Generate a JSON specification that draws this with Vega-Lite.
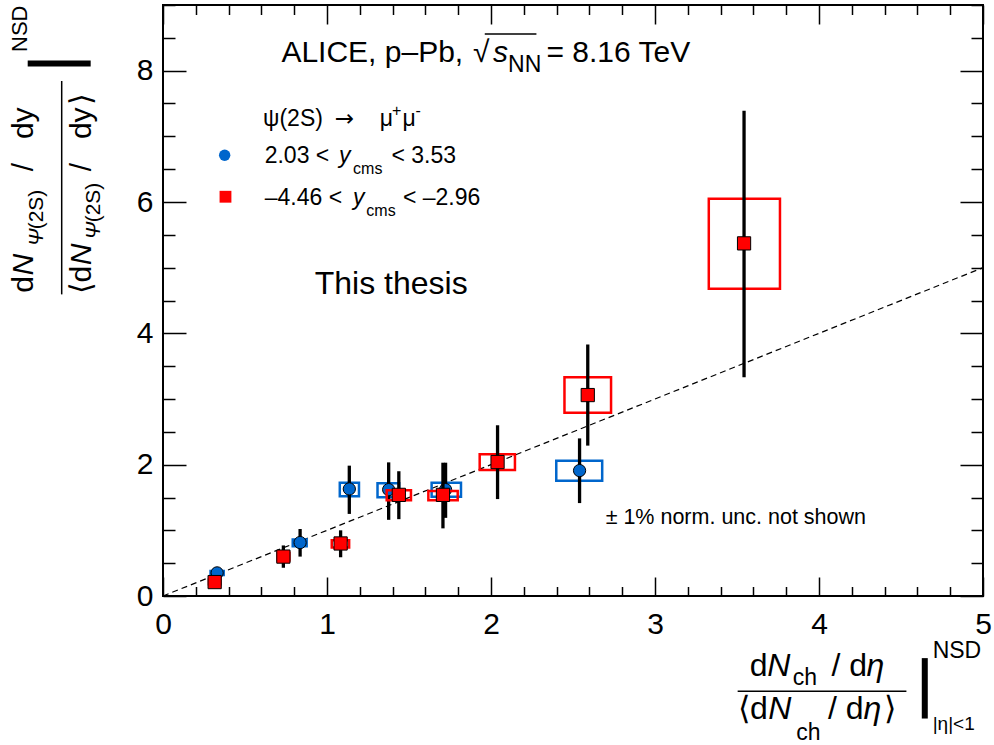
{
  "$schema": "https://vega.github.io/schema/vega-lite/v6.json",
  "width": 820,
  "height": 591,
  "autosize": {"type": "none"},
  "padding": {"left": 163, "top": 5, "right": 11, "bottom": 149},
  "background": "white",
  "config": {
    "view": {"stroke": "black", "strokeWidth": 2},
    "font": "Liberation Sans",
    "text": {"font": "Liberation Sans", "color": "black", "align": "left", "baseline": "alphabetic"}
  },
  "datasets": {
    "pts": [
      {"s": "fwd", "x": 0.330, "y": 0.352, "lo": 0.30, "hi": 0.40, "bx1": 0.29, "bx2": 0.37, "by1": 0.32, "by2": 0.38},
      {"s": "fwd", "x": 0.836, "y": 0.814, "lo": 0.60, "hi": 1.02, "bx1": 0.791, "bx2": 0.876, "by1": 0.756, "by2": 0.861},
      {"s": "fwd", "x": 1.136, "y": 1.63, "lo": 1.25, "hi": 1.985, "bx1": 1.078, "bx2": 1.195, "by1": 1.52, "by2": 1.726},
      {"s": "fwd", "x": 1.376, "y": 1.62, "lo": 1.16, "hi": 2.035, "bx1": 1.308, "bx2": 1.44, "by1": 1.504, "by2": 1.716},
      {"s": "fwd", "x": 1.723, "y": 1.62, "lo": 1.19, "hi": 2.03, "bx1": 1.638, "bx2": 1.817, "by1": 1.51, "by2": 1.725},
      {"s": "fwd", "x": 2.54, "y": 1.91, "lo": 1.415, "hi": 2.40, "bx1": 2.398, "bx2": 2.678, "by1": 1.755, "by2": 2.06},
      {"s": "bwd", "x": 0.315, "y": 0.212, "lo": 0.17, "hi": 0.26, "bx1": 0.28, "bx2": 0.35, "by1": 0.18, "by2": 0.25},
      {"s": "bwd", "x": 0.734, "y": 0.60, "lo": 0.43, "hi": 0.77, "bx1": 0.699, "bx2": 0.771, "by1": 0.54, "by2": 0.66},
      {"s": "bwd", "x": 1.083, "y": 0.80, "lo": 0.59, "hi": 1.00, "bx1": 1.029, "bx2": 1.135, "by1": 0.74, "by2": 0.85},
      {"s": "bwd", "x": 1.438, "y": 1.54, "lo": 1.17, "hi": 1.90, "bx1": 1.364, "bx2": 1.512, "by1": 1.46, "by2": 1.61},
      {"s": "bwd", "x": 1.707, "y": 1.54, "lo": 1.03, "hi": 2.03, "bx1": 1.618, "bx2": 1.797, "by1": 1.46, "by2": 1.60},
      {"s": "bwd", "x": 2.04, "y": 2.04, "lo": 1.476, "hi": 2.60, "bx1": 1.931, "bx2": 2.146, "by1": 1.92, "by2": 2.16},
      {"s": "bwd", "x": 2.59, "y": 3.06, "lo": 2.29, "hi": 3.83, "bx1": 2.448, "bx2": 2.732, "by1": 2.79, "by2": 3.33},
      {"s": "bwd", "x": 3.543, "y": 5.37, "lo": 3.33, "hi": 7.39, "bx1": 3.328, "bx2": 3.762, "by1": 4.68, "by2": 6.05}
    ],
    "diag": [{"x": 0, "y": 0}, {"x": 5, "y": 5}]
  },
  "layer": [
    {
      "data": {"name": "diag"},
      "mark": {"type": "line", "color": "black", "strokeWidth": 1.2, "strokeDash": [6, 4]},
      "encoding": {
        "x": {"field": "x", "type": "quantitative", "scale": {"domain": [0, 5], "nice": false, "zero": false},
          "axis": {"orient": "bottom", "title": null, "domain": false, "grid": false,
            "values": [0, 0.2, 0.4, 0.6, 0.8, 1, 1.2, 1.4, 1.6, 1.8, 2, 2.2, 2.4, 2.6, 2.8, 3, 3.2, 3.4, 3.6, 3.8, 4, 4.2, 4.4, 4.6, 4.8, 5],
            "tickColor": "black", "tickWidth": 1.5,
            "tickSize": {"condition": {"test": "datum.value == round(datum.value)", "value": -19}, "value": -9.5},
            "labelExpr": "datum.value == round(datum.value) ? format(datum.value, 'd') : ''",
            "labelFont": "Liberation Sans", "labelFontSize": 30, "labelColor": "black", "labelPadding": 32,
            "labelFlush": false, "labelOverlap": false, "labelBound": false}},
        "y": {"field": "y", "type": "quantitative", "scale": {"domain": [0, 9], "nice": false, "zero": false},
          "axis": {"orient": "left", "title": null, "domain": false, "grid": false,
            "values": [0, 0.5, 1, 1.5, 2, 2.5, 3, 3.5, 4, 4.5, 5, 5.5, 6, 6.5, 7, 7.5, 8, 8.5, 9],
            "tickColor": "black", "tickWidth": 1.5,
            "tickSize": {"condition": {"test": "datum.value % 2 == 0", "value": -23}, "value": -12},
            "labelExpr": "datum.value % 2 == 0 ? format(datum.value, 'd') : ''",
            "labelFont": "Liberation Sans", "labelFontSize": 30, "labelColor": "black", "labelPadding": 33,
            "labelFlush": false, "labelOverlap": false, "labelBound": false}}
      }
    },
    {
      "data": {"name": "diag"},
      "mark": {"type": "line", "opacity": 0},
      "encoding": {
        "x": {"field": "x", "type": "quantitative", "scale": {"domain": [0, 5], "nice": false, "zero": false},
          "axis": {"orient": "top", "title": null, "domain": false, "grid": false, "labels": false,
            "values": [0, 0.2, 0.4, 0.6, 0.8, 1, 1.2, 1.4, 1.6, 1.8, 2, 2.2, 2.4, 2.6, 2.8, 3, 3.2, 3.4, 3.6, 3.8, 4, 4.2, 4.4, 4.6, 4.8, 5],
            "tickColor": "black", "tickWidth": 1.5,
            "tickSize": {"condition": {"test": "datum.value == round(datum.value)", "value": -19}, "value": -9.5}}},
        "y": {"field": "y", "type": "quantitative", "scale": {"domain": [0, 9], "nice": false, "zero": false},
          "axis": {"orient": "right", "title": null, "domain": false, "grid": false, "labels": false,
            "values": [0, 0.5, 1, 1.5, 2, 2.5, 3, 3.5, 4, 4.5, 5, 5.5, 6, 6.5, 7, 7.5, 8, 8.5, 9],
            "tickColor": "black", "tickWidth": 1.5,
            "tickSize": {"condition": {"test": "datum.value % 2 == 0", "value": -23}, "value": -12}}}
      }
    },
    {
      "data": {"name": "pts"},
      "transform": [{"filter": "datum.s == 'fwd'"}],
      "mark": {"type": "rect", "filled": false, "stroke": "#0066cc", "strokeWidth": 2.5, "fill": null},
      "encoding": {
        "x": {"field": "bx1", "type": "quantitative", "scale": {"domain": [0, 5], "nice": false, "zero": false}, "axis": null},
        "x2": {"field": "bx2"},
        "y": {"field": "by1", "type": "quantitative", "scale": {"domain": [0, 9], "nice": false, "zero": false}, "axis": null},
        "y2": {"field": "by2"}
      }
    },
    {
      "data": {"name": "pts"},
      "transform": [{"filter": "datum.s == 'fwd'"}],
      "mark": {"type": "rule", "color": "black", "strokeWidth": 3.3},
      "encoding": {
        "x": {"field": "x", "type": "quantitative", "scale": {"domain": [0, 5], "nice": false, "zero": false}, "axis": null},
        "y": {"field": "lo", "type": "quantitative", "scale": {"domain": [0, 9], "nice": false, "zero": false}, "axis": null},
        "y2": {"field": "hi"}
      }
    },
    {
      "data": {"name": "pts"},
      "transform": [{"filter": "datum.s == 'fwd'"}],
      "mark": {"type": "point", "shape": "circle", "filled": true, "fill": "#0066cc", "stroke": "black", "strokeWidth": 1, "size": 150, "opacity": 1},
      "encoding": {
        "x": {"field": "x", "type": "quantitative", "scale": {"domain": [0, 5], "nice": false, "zero": false}, "axis": null},
        "y": {"field": "y", "type": "quantitative", "scale": {"domain": [0, 9], "nice": false, "zero": false}, "axis": null}
      }
    },
    {
      "data": {"name": "pts"},
      "transform": [{"filter": "datum.s == 'bwd'"}],
      "mark": {"type": "rect", "filled": false, "stroke": "#ff0000", "strokeWidth": 2.5, "fill": null},
      "encoding": {
        "x": {"field": "bx1", "type": "quantitative", "scale": {"domain": [0, 5], "nice": false, "zero": false}, "axis": null},
        "x2": {"field": "bx2"},
        "y": {"field": "by1", "type": "quantitative", "scale": {"domain": [0, 9], "nice": false, "zero": false}, "axis": null},
        "y2": {"field": "by2"}
      }
    },
    {
      "data": {"name": "pts"},
      "transform": [{"filter": "datum.s == 'bwd'"}],
      "mark": {"type": "rule", "color": "black", "strokeWidth": 3.3},
      "encoding": {
        "x": {"field": "x", "type": "quantitative", "scale": {"domain": [0, 5], "nice": false, "zero": false}, "axis": null},
        "y": {"field": "lo", "type": "quantitative", "scale": {"domain": [0, 9], "nice": false, "zero": false}, "axis": null},
        "y2": {"field": "hi"}
      }
    },
    {
      "data": {"name": "pts"},
      "transform": [{"filter": "datum.s == 'bwd'"}],
      "mark": {"type": "point", "shape": "square", "filled": true, "fill": "#ff0000", "stroke": "black", "strokeWidth": 1, "size": 175, "opacity": 1},
      "encoding": {
        "x": {"field": "x", "type": "quantitative", "scale": {"domain": [0, 5], "nice": false, "zero": false}, "axis": null},
        "y": {"field": "y", "type": "quantitative", "scale": {"domain": [0, 9], "nice": false, "zero": false}, "axis": null}
      }
    },
    {
      "data": {"values": [{"x": 0.376, "y": 6.713}]},
      "mark": {"type": "point", "shape": "circle", "filled": true, "fill": "#0066cc", "strokeWidth": 0, "size": 130, "opacity": 1},
      "encoding": {
        "x": {"field": "x", "type": "quantitative", "scale": {"domain": [0, 5], "nice": false, "zero": false}, "axis": null},
        "y": {"field": "y", "type": "quantitative", "scale": {"domain": [0, 9], "nice": false, "zero": false}, "axis": null}
      }
    },
    {
      "data": {"values": [{"x": 0.381, "y": 6.080}]},
      "mark": {"type": "point", "shape": "square", "filled": true, "fill": "#ff0000", "strokeWidth": 0, "size": 140, "opacity": 1},
      "encoding": {
        "x": {"field": "x", "type": "quantitative", "scale": {"domain": [0, 5], "nice": false, "zero": false}, "axis": null},
        "y": {"field": "y", "type": "quantitative", "scale": {"domain": [0, 9], "nice": false, "zero": false}, "axis": null}
      }
    },
    {
      "data": {"values": [
        {"x": -0.6177, "x2": -0.6177, "y": 7.843, "y2": 4.593},
        {"x": 3.504, "x2": 4.533, "y": -1.4495, "y2": -1.4495},
        {"x": 1.962, "x2": 2.277, "y": 8.56, "y2": 8.56}
      ]},
      "mark": {"type": "rule", "color": "black", "strokeWidth": 1.5},
      "encoding": {
        "x": {"field": "x", "type": "quantitative", "scale": {"domain": [0, 5], "nice": false, "zero": false}, "axis": null},
        "x2": {"field": "x2"},
        "y": {"field": "y", "type": "quantitative", "scale": {"domain": [0, 9], "nice": false, "zero": false}, "axis": null},
        "y2": {"field": "y2"}
      }
    },
    {
      "data": {"values": [
        {"x": -0.825, "x2": -0.441, "y": 8.11, "y2": 8.11},
        {"x": 4.645, "x2": 4.645, "y": -0.946, "y2": -1.866}
      ]},
      "mark": {"type": "rule", "color": "black", "strokeWidth": 6},
      "encoding": {
        "x": {"field": "x", "type": "quantitative", "scale": {"domain": [0, 5], "nice": false, "zero": false}, "axis": null},
        "x2": {"field": "x2"},
        "y": {"field": "y", "type": "quantitative", "scale": {"domain": [0, 9], "nice": false, "zero": false}, "axis": null},
        "y2": {"field": "y2"}
      }
    },
    {
      "data": {"values": [
        {"t": "ALICE, p–Pb,", "x": 0.722, "y": 8.128},
        {"t": "√", "x": 1.890, "y": 8.128},
        {"t": "= 8.16 TeV", "x": 2.338, "y": 8.128}
      ]},
      "mark": {"type": "text", "fontSize": 30},
      "encoding": {
        "x": {"field": "x", "type": "quantitative", "scale": {"domain": [0, 5], "nice": false, "zero": false}, "axis": null},
        "y": {"field": "y", "type": "quantitative", "scale": {"domain": [0, 9], "nice": false, "zero": false}, "axis": null},
        "text": {"field": "t"}
      }
    },
    {
      "data": {"values": [{"t": "s", "x": 2.012, "y": 8.128}]},
      "mark": {"type": "text", "fontSize": 30, "fontStyle": "italic"},
      "encoding": {
        "x": {"field": "x", "type": "quantitative", "scale": {"domain": [0, 5], "nice": false, "zero": false}, "axis": null},
        "y": {"field": "y", "type": "quantitative", "scale": {"domain": [0, 9], "nice": false, "zero": false}, "axis": null},
        "text": {"field": "t"}
      }
    },
    {
      "data": {"values": [
        {"t": "NN", "x": 2.104, "y": 7.975},
        {"t": "ch", "x": 3.84, "y": -1.358},
        {"t": "ch", "x": 3.862, "y": -2.197},
        {"t": "NSD", "x": 4.693, "y": -0.951}
      ]},
      "mark": {"type": "text", "fontSize": 23},
      "encoding": {
        "x": {"field": "x", "type": "quantitative", "scale": {"domain": [0, 5], "nice": false, "zero": false}, "axis": null},
        "y": {"field": "y", "type": "quantitative", "scale": {"domain": [0, 9], "nice": false, "zero": false}, "axis": null},
        "text": {"field": "t"}
      }
    },
    {
      "data": {"values": [
        {"t": "ψ(2S)", "x": 0.610, "y": 7.161},
        {"t": "μ", "x": 1.321, "y": 7.161},
        {"t": "μ", "x": 1.460, "y": 7.161},
        {"t": "2.03 <", "x": 0.620, "y": 6.591},
        {"t": "< 3.53", "x": 1.393, "y": 6.591},
        {"t": "–4.46 <", "x": 0.620, "y": 5.951},
        {"t": "< –2.96", "x": 1.463, "y": 5.951}
      ]},
      "mark": {"type": "text", "fontSize": 23},
      "encoding": {
        "x": {"field": "x", "type": "quantitative", "scale": {"domain": [0, 5], "nice": false, "zero": false}, "axis": null},
        "y": {"field": "y", "type": "quantitative", "scale": {"domain": [0, 9], "nice": false, "zero": false}, "axis": null},
        "text": {"field": "t"}
      }
    },
    {
      "data": {"values": [{"t": "→", "x": 1.047, "y": 7.161}]},
      "mark": {"type": "text", "fontSize": 23, "font": "DejaVu Sans"},
      "encoding": {
        "x": {"field": "x", "type": "quantitative", "scale": {"domain": [0, 5], "nice": false, "zero": false}, "axis": null},
        "y": {"field": "y", "type": "quantitative", "scale": {"domain": [0, 9], "nice": false, "zero": false}, "axis": null},
        "text": {"field": "t"}
      }
    },
    {
      "data": {"values": [
        {"t": "y", "x": 1.073, "y": 6.591},
        {"t": "y", "x": 1.159, "y": 5.951}
      ]},
      "mark": {"type": "text", "fontSize": 23, "fontStyle": "italic"},
      "encoding": {
        "x": {"field": "x", "type": "quantitative", "scale": {"domain": [0, 5], "nice": false, "zero": false}, "axis": null},
        "y": {"field": "y", "type": "quantitative", "scale": {"domain": [0, 9], "nice": false, "zero": false}, "axis": null},
        "text": {"field": "t"}
      }
    },
    {
      "data": {"values": [
        {"t": "+", "x": 1.396, "y": 7.304},
        {"t": "-", "x": 1.540, "y": 7.313},
        {"t": "cms", "x": 1.159, "y": 6.424},
        {"t": "cms", "x": 1.240, "y": 5.787}
      ]},
      "mark": {"type": "text", "fontSize": 16},
      "encoding": {
        "x": {"field": "x", "type": "quantitative", "scale": {"domain": [0, 5], "nice": false, "zero": false}, "axis": null},
        "y": {"field": "y", "type": "quantitative", "scale": {"domain": [0, 9], "nice": false, "zero": false}, "axis": null},
        "text": {"field": "t"}
      }
    },
    {
      "data": {"values": [{"t": "This thesis", "x": 0.925, "y": 4.593}]},
      "mark": {"type": "text", "fontSize": 32},
      "encoding": {
        "x": {"field": "x", "type": "quantitative", "scale": {"domain": [0, 5], "nice": false, "zero": false}, "axis": null},
        "y": {"field": "y", "type": "quantitative", "scale": {"domain": [0, 9], "nice": false, "zero": false}, "axis": null},
        "text": {"field": "t"}
      }
    },
    {
      "data": {"values": [{"t": "± 1% norm. unc. not shown", "x": 2.699, "y": 1.099}]},
      "mark": {"type": "text", "fontSize": 21.5},
      "encoding": {
        "x": {"field": "x", "type": "quantitative", "scale": {"domain": [0, 5], "nice": false, "zero": false}, "axis": null},
        "y": {"field": "y", "type": "quantitative", "scale": {"domain": [0, 9], "nice": false, "zero": false}, "axis": null},
        "text": {"field": "t"}
      }
    },
    {
      "data": {"values": [
        {"t": "d", "x": 3.577, "y": -1.216},
        {"t": "/ d", "x": 4.076, "y": -1.216},
        {"t": "⟨d", "x": 3.506, "y": -1.866},
        {"t": "/ d", "x": 4.055, "y": -1.866},
        {"t": "⟩", "x": 4.394, "y": -1.866}
      ]},
      "mark": {"type": "text", "fontSize": 32},
      "encoding": {
        "x": {"field": "x", "type": "quantitative", "scale": {"domain": [0, 5], "nice": false, "zero": false}, "axis": null},
        "y": {"field": "y", "type": "quantitative", "scale": {"domain": [0, 9], "nice": false, "zero": false}, "axis": null},
        "text": {"field": "t"}
      }
    },
    {
      "data": {"values": [
        {"t": "N", "x": 3.685, "y": -1.216},
        {"t": "η", "x": 4.290, "y": -1.216},
        {"t": "N", "x": 3.690, "y": -1.866},
        {"t": "η", "x": 4.272, "y": -1.866}
      ]},
      "mark": {"type": "text", "fontSize": 32, "fontStyle": "italic"},
      "encoding": {
        "x": {"field": "x", "type": "quantitative", "scale": {"domain": [0, 5], "nice": false, "zero": false}, "axis": null},
        "y": {"field": "y", "type": "quantitative", "scale": {"domain": [0, 9], "nice": false, "zero": false}, "axis": null},
        "text": {"field": "t"}
      }
    },
    {
      "data": {"values": [{"t": "|η|<1", "x": 4.693, "y": -2.045}]},
      "mark": {"type": "text", "fontSize": 19},
      "encoding": {
        "x": {"field": "x", "type": "quantitative", "scale": {"domain": [0, 5], "nice": false, "zero": false}, "axis": null},
        "y": {"field": "y", "type": "quantitative", "scale": {"domain": [0, 9], "nice": false, "zero": false}, "axis": null},
        "text": {"field": "t"}
      }
    },
    {
      "data": {"values": [
        {"t": "d", "x": -0.7945, "y": 4.619},
        {"t": "/", "x": -0.7945, "y": 6.47},
        {"t": "dy", "x": -0.7945, "y": 6.958},
        {"t": "⟨d", "x": -0.4366, "y": 4.593},
        {"t": "/", "x": -0.4366, "y": 6.47},
        {"t": "dy", "x": -0.4366, "y": 6.958},
        {"t": "⟩", "x": -0.4366, "y": 7.476}
      ]},
      "mark": {"type": "text", "fontSize": 30, "angle": 270},
      "encoding": {
        "x": {"field": "x", "type": "quantitative", "scale": {"domain": [0, 5], "nice": false, "zero": false}, "axis": null},
        "y": {"field": "y", "type": "quantitative", "scale": {"domain": [0, 9], "nice": false, "zero": false}, "axis": null},
        "text": {"field": "t"}
      }
    },
    {
      "data": {"values": [
        {"t": "N", "x": -0.7945, "y": 4.88},
        {"t": "N", "x": -0.4366, "y": 5.035}
      ]},
      "mark": {"type": "text", "fontSize": 30, "angle": 270, "fontStyle": "italic"},
      "encoding": {
        "x": {"field": "x", "type": "quantitative", "scale": {"domain": [0, 5], "nice": false, "zero": false}, "axis": null},
        "y": {"field": "y", "type": "quantitative", "scale": {"domain": [0, 9], "nice": false, "zero": false}, "axis": null},
        "text": {"field": "t"}
      }
    },
    {
      "data": {"values": [
        {"t": "Ψ", "x": -0.7335, "y": 5.33},
        {"t": "Ψ", "x": -0.386, "y": 5.432}
      ]},
      "mark": {"type": "text", "fontSize": 21, "angle": 270, "fontStyle": "italic"},
      "encoding": {
        "x": {"field": "x", "type": "quantitative", "scale": {"domain": [0, 5], "nice": false, "zero": false}, "axis": null},
        "y": {"field": "y", "type": "quantitative", "scale": {"domain": [0, 9], "nice": false, "zero": false}, "axis": null},
        "text": {"field": "t"}
      }
    },
    {
      "data": {"values": [
        {"t": "(2S)", "x": -0.7335, "y": 5.584},
        {"t": "(2S)", "x": -0.386, "y": 5.69}
      ]},
      "mark": {"type": "text", "fontSize": 21, "angle": 270},
      "encoding": {
        "x": {"field": "x", "type": "quantitative", "scale": {"domain": [0, 5], "nice": false, "zero": false}, "axis": null},
        "y": {"field": "y", "type": "quantitative", "scale": {"domain": [0, 9], "nice": false, "zero": false}, "axis": null},
        "text": {"field": "t"}
      }
    },
    {
      "data": {"values": [{"t": "NSD", "x": -0.831, "y": 8.285}]},
      "mark": {"type": "text", "fontSize": 22, "angle": 270},
      "encoding": {
        "x": {"field": "x", "type": "quantitative", "scale": {"domain": [0, 5], "nice": false, "zero": false}, "axis": null},
        "y": {"field": "y", "type": "quantitative", "scale": {"domain": [0, 9], "nice": false, "zero": false}, "axis": null},
        "text": {"field": "t"}
      }
    }
  ],
  "resolve": {"axis": {"x": "independent", "y": "independent"}}
}
